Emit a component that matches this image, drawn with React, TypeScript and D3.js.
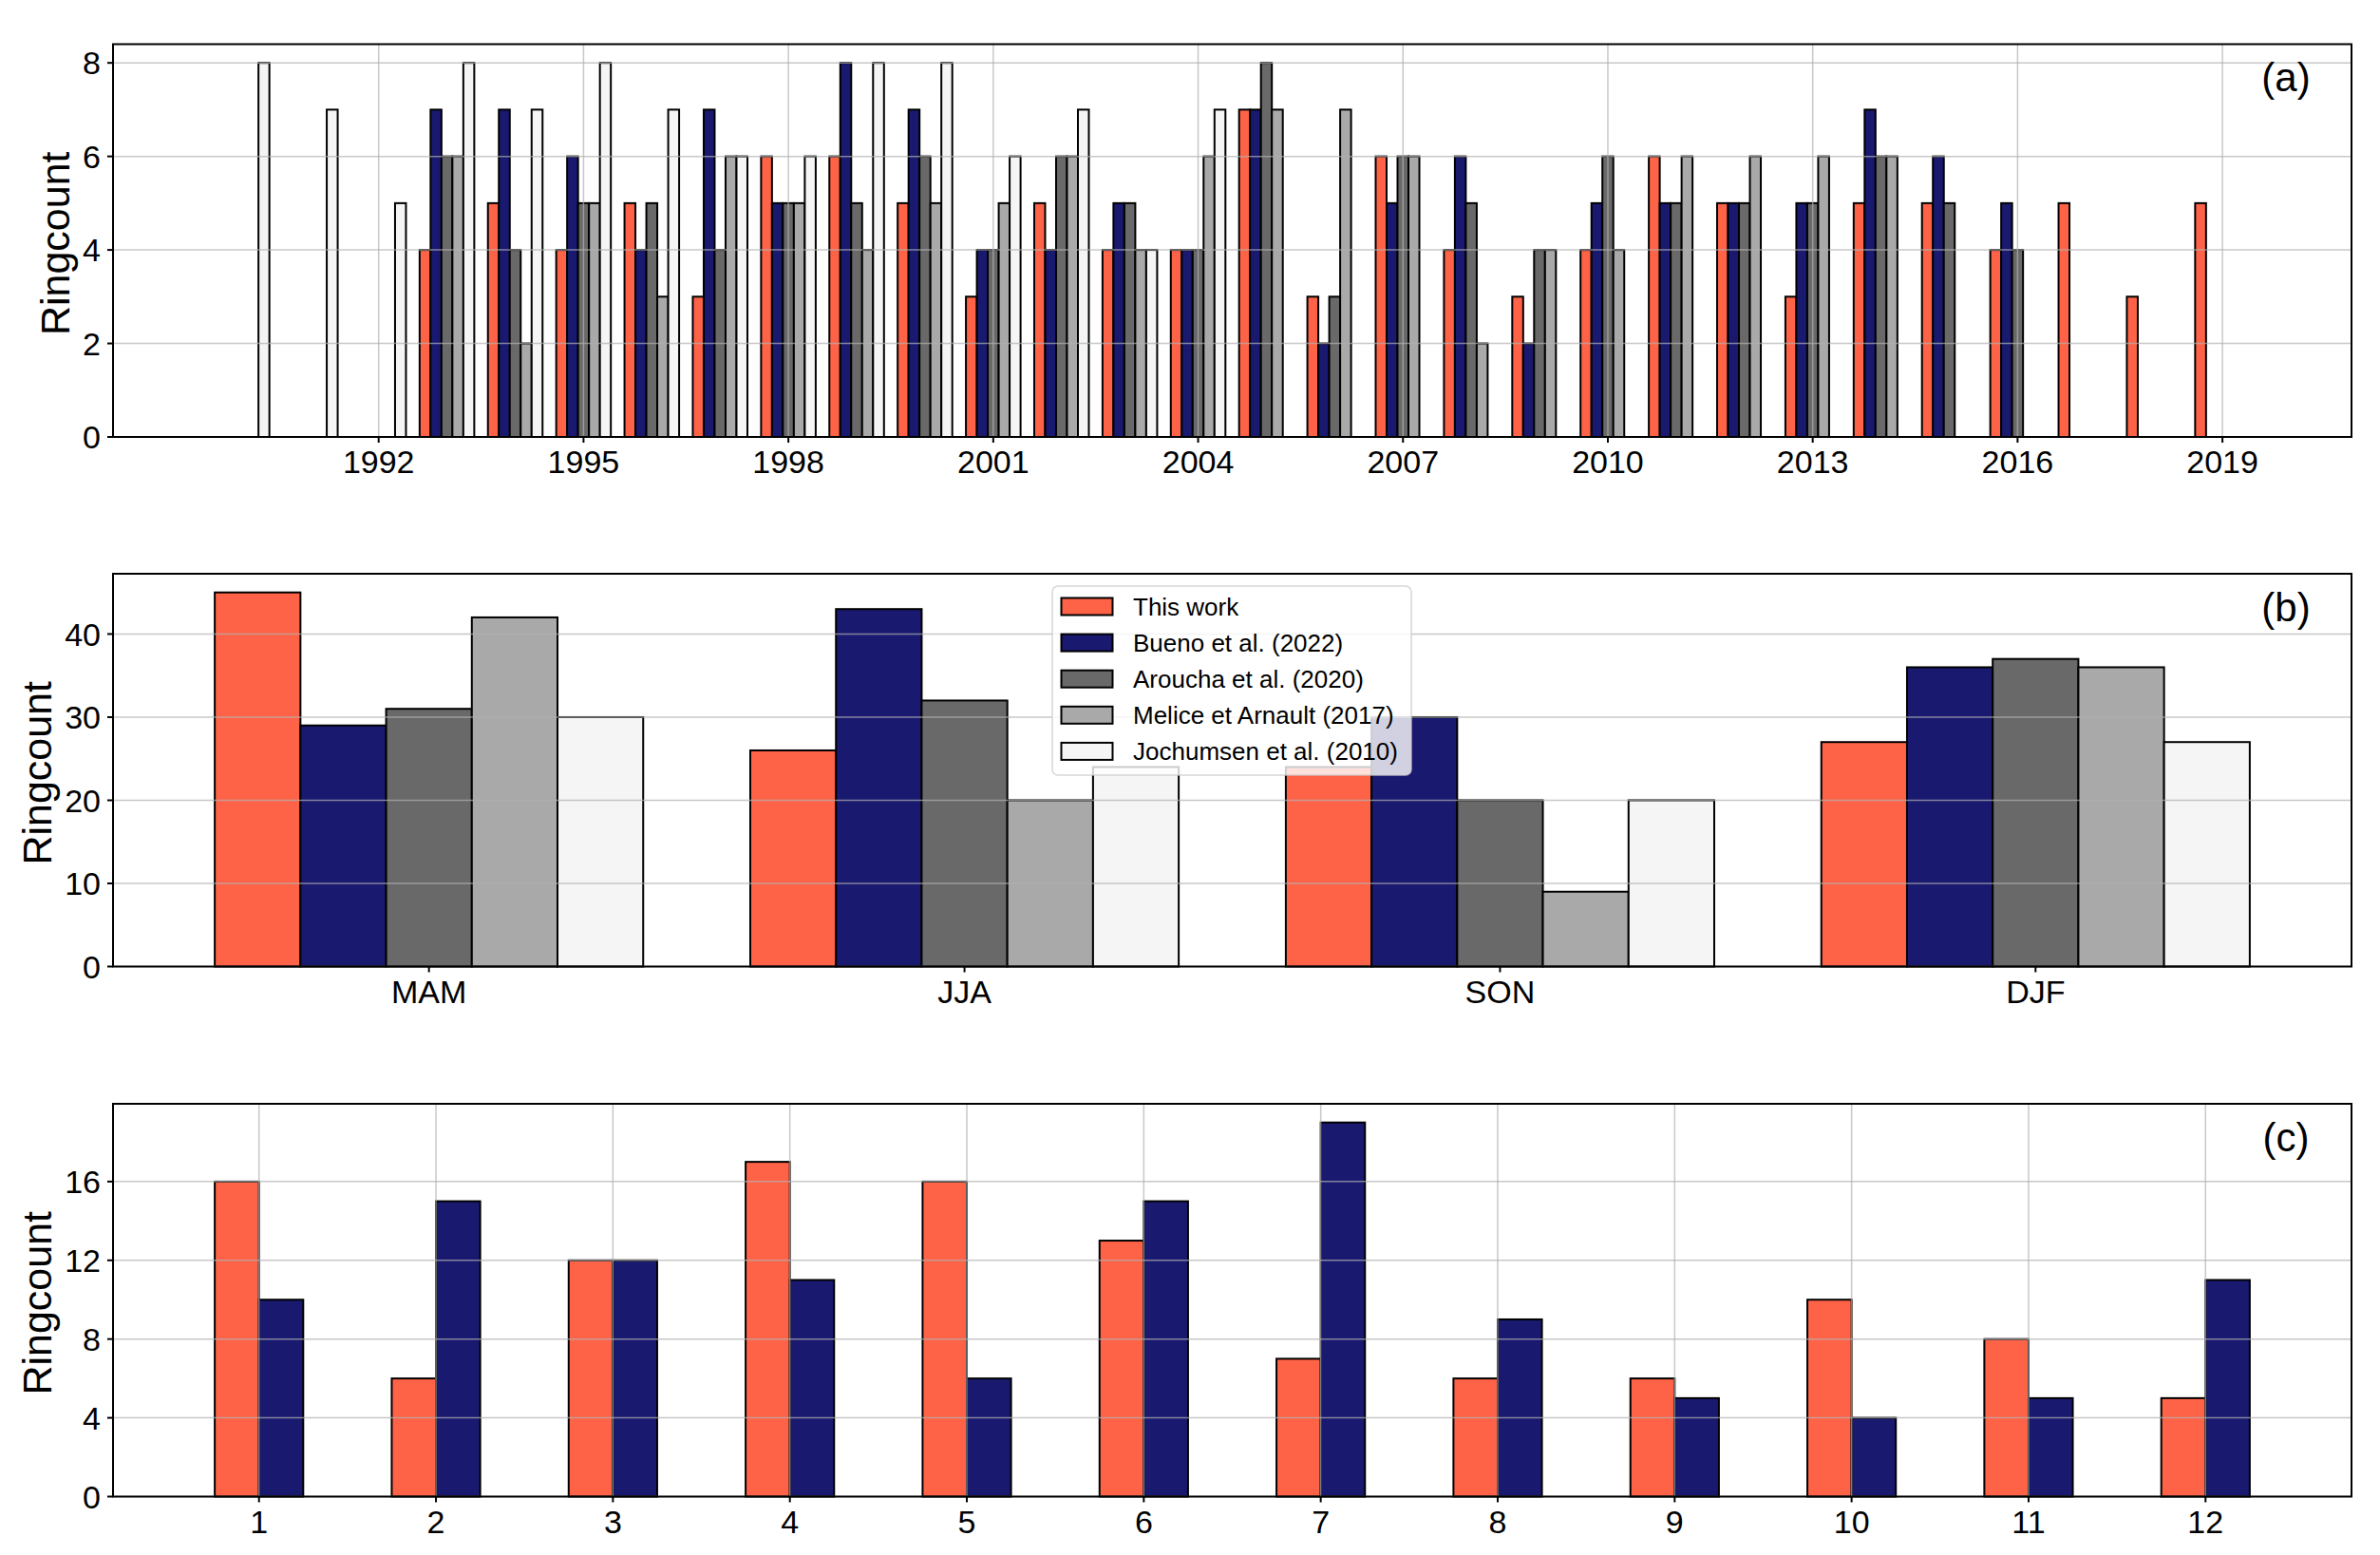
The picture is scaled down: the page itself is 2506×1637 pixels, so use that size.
import React from "react";
import * as d3 from "d3";

// ---------- DATA ----------
const years = [
  1990, 1991, 1992, 1993, 1994, 1995, 1996, 1997, 1998, 1999,
  2000, 2001, 2002, 2003, 2004, 2005, 2006, 2007, 2008, 2009,
  2010, 2011, 2012, 2013, 2014, 2015, 2016, 2017, 2018, 2019,
];
const thisWorkYearly = [null, null, null, 4, 5, 4, 5, 3, 6, 6, 5, 3, 5, 4, 4, 7, 3, 6, 4, 3, 4, 6, 5, 3, 5, 5, 4, 5, 3, 5];
const buenoYearly = [null, null, null, 7, 7, 6, 4, 7, 5, 8, 7, 4, 4, 5, 4, 7, 2, 5, 6, 2, 5, 5, 5, 5, 7, 6, 5, null, null, null];
const arouchaYearly = [null, null, null, 6, 4, 5, 5, 4, 5, 5, 6, 4, 6, 5, 4, 8, 3, 6, 5, 4, 6, 5, 5, 5, 6, 5, 4, null, null, null];
const meliceYearly = [null, null, null, 6, 2, 5, 3, 6, 5, 4, 5, 5, 6, 4, 6, 7, 7, 6, 2, 4, 4, 6, 6, 6, 6, null, null, null, null, null];
const jochumsenYearly = [8, 7, 5, 8, 7, 8, 7, 6, 6, 8, 8, 6, 7, 4, 7, null, null, null, null, null, null, null, null, null, null, null, null, null, null, null];
const yearTicks = [1992, 1995, 1998, 2001, 2004, 2007, 2010, 2013, 2016, 2019];
const yTicksA = [0, 2, 4, 6, 8];

const seasons = ["MAM", "JJA", "SON", "DJF"];
const thisWorkSeason = [45, 26, 24, 27];
const buenoSeason = [29, 43, 30, 36];
const arouchaSeason = [31, 32, 20, 37];
const meliceSeason = [42, 20, 9, 36];
const jochumsenSeason = [30, 24, 20, 27];
const yTicksB = [0, 10, 20, 30, 40];

const months = ["1", "2", "3", "4", "5", "6", "7", "8", "9", "10", "11", "12"];
const thisWorkMonthly = [16, 6, 12, 17, 16, 13, 7, 6, 6, 10, 8, 5];
const buenoMonthly = [10, 15, 12, 11, 6, 15, 19, 9, 5, 4, 5, 11];
const yTicksC = [0, 4, 8, 12, 16];

const seriesNames = [
  "This work",
  "Bueno et al. (2022)",
  "Aroucha et al. (2020)",
  "Melice et Arnault (2017)",
  "Jochumsen et al. (2010)",
];
const seriesColors = ["#FF6347", "#191970", "#696969", "#A9A9A9", "#F5F5F5"];

// ---------- LAYOUT ----------
const W = 2506;
const H = 1637;
const LEFT = 119;
const RIGHT = 2476;
const PANEL_H = 413.5;
const TOPS = [46.5, 604, 1162];
const FONT = "'Liberation Sans', Arial, Helvetica, sans-serif";
const TICK_FS = 34;
const LABEL_FS = 43;
const TAG_FS = 42;
const BAR_SW = 2;

type Bar = { x0: number; x1: number; v: number; color: string };

function Panel(props: {
  top: number;
  x: d3.ScaleLinear<number, number>;
  y: d3.ScaleLinear<number, number>;
  bars: Bar[];
  xTicks: { v: number; label: string }[];
  yTicks: number[];
  tag: string;
  ylabelX: number;
  xGrid: boolean;
  children?: React.ReactNode;
}) {
  const { top, x, y, bars, xTicks, yTicks, tag, ylabelX, xGrid } = props;
  const bottom = top + PANEL_H;
  return (
    <g>
      {bars.map((b, i) => (
        <rect
          key={i}
          x={x(b.x0)}
          y={y(b.v)}
          width={x(b.x1) - x(b.x0)}
          height={y(0) - y(b.v)}
          fill={b.color}
          stroke="#000"
          strokeWidth={BAR_SW}
        />
      ))}
      {/* grid */}
      <g stroke="#b0b0b0" strokeOpacity={0.7} strokeWidth={1.5}>
        {yTicks.map((t) => (
          <line key={"gy" + t} x1={LEFT} x2={RIGHT} y1={y(t)} y2={y(t)} />
        ))}
        {xGrid &&
          xTicks.map((t) => (
            <line key={"gx" + t.v} x1={x(t.v)} x2={x(t.v)} y1={top} y2={bottom} />
          ))}
      </g>
      {/* spines */}
      <rect x={LEFT} y={top} width={RIGHT - LEFT} height={PANEL_H} fill="none" stroke="#000" strokeWidth={2} />
      {/* ticks */}
      <g stroke="#000" strokeWidth={2}>
        {yTicks.map((t) => (
          <line key={"ty" + t} x1={LEFT - 6} x2={LEFT} y1={y(t)} y2={y(t)} />
        ))}
        {xTicks.map((t) => (
          <line key={"tx" + t.v} x1={x(t.v)} x2={x(t.v)} y1={bottom} y2={bottom + 6} />
        ))}
      </g>
      <g fontFamily={FONT} fontSize={TICK_FS} fill="#000">
        {yTicks.map((t) => (
          <text key={"ly" + t} x={LEFT - 13} y={y(t)} dy="0.36em" textAnchor="end">
            {t}
          </text>
        ))}
        {xTicks.map((t) => (
          <text key={"lx" + t.v} x={x(t.v)} y={bottom + 38} textAnchor="middle">
            {t.label}
          </text>
        ))}
      </g>
      <text
        transform={`translate(${ylabelX},${top + PANEL_H / 2 + 3}) rotate(-90)`}
        textAnchor="middle"
        fontFamily={FONT}
        fontSize={LABEL_FS}
      >
        Ringcount
      </text>
      <text x={2407} y={top + 49.5} textAnchor="middle" fontFamily={FONT} fontSize={TAG_FS}>
        {tag}
      </text>
      {props.children}
    </g>
  );
}

export default function App() {
  // Panel (a)
  const yearlySeries = [thisWorkYearly, buenoYearly, arouchaYearly, meliceYearly, jochumsenYearly];
  const wA = 0.16;
  const xA = d3.scaleLinear().domain([1988.11, 2020.89]).range([LEFT, RIGHT]);
  const yA = d3.scaleLinear().domain([0, 8.4]).range([TOPS[0] + PANEL_H, TOPS[0]]);
  const barsA: Bar[] = [];
  yearlySeries.forEach((s, si) => {
    s.forEach((v, i) => {
      if (v == null) return;
      const c = years[i] + (si - 2) * wA;
      barsA.push({ x0: c - wA / 2, x1: c + wA / 2, v, color: seriesColors[si] });
    });
  });

  // Panel (b)
  const seasonSeries = [thisWorkSeason, buenoSeason, arouchaSeason, meliceSeason, jochumsenSeason];
  const wB = 0.16;
  const xB = d3.scaleLinear().domain([-0.59, 3.59]).range([LEFT, RIGHT]);
  const yB = d3.scaleLinear().domain([0, 47.25]).range([TOPS[1] + PANEL_H, TOPS[1]]);
  const barsB: Bar[] = [];
  seasonSeries.forEach((s, si) => {
    s.forEach((v, i) => {
      const c = i + (si - 2) * wB;
      barsB.push({ x0: c - wB / 2, x1: c + wB / 2, v, color: seriesColors[si] });
    });
  });

  // Panel (c)
  const monthSeries = [thisWorkMonthly, buenoMonthly];
  const wC = 0.25;
  const xC = d3.scaleLinear().domain([0.175, 12.825]).range([LEFT, RIGHT]);
  const yC = d3.scaleLinear().domain([0, 19.95]).range([TOPS[2] + PANEL_H, TOPS[2]]);
  const barsC: Bar[] = [];
  monthSeries.forEach((s, si) => {
    s.forEach((v, i) => {
      const c = i + 1 + (si === 0 ? -0.5 : 0.5) * wC;
      barsC.push({ x0: c - wC / 2, x1: c + wC / 2, v, color: seriesColors[si] });
    });
  });

  // legend (upper center of panel b)
  const legX = 1108;
  const legY = 617;
  const legW = 378;
  const legH = 199;
  const rowY0 = 638.5;
  const rowStep = 38.1;

  return (
    <svg
      width={W}
      height={H}
      viewBox={`0 0 ${W} ${H}`}
      style={{ position: "absolute", left: 0, top: 0, display: "block", background: "#fff" }}
    >
      <rect x={0} y={0} width={W} height={H} fill="#fff" />
      <Panel
        top={TOPS[0]}
        x={xA}
        y={yA}
        bars={barsA}
        xTicks={yearTicks.map((t) => ({ v: t, label: String(t) }))}
        yTicks={yTicksA}
        tag="(a)"
        ylabelX={73}
        xGrid={true}
      />
      <Panel
        top={TOPS[1]}
        x={xB}
        y={yB}
        bars={barsB}
        xTicks={seasons.map((s, i) => ({ v: i, label: s }))}
        yTicks={yTicksB}
        tag="(b)"
        ylabelX={53.5}
        xGrid={false}
      >
        <g>
          <rect
            x={legX}
            y={legY}
            width={legW}
            height={legH}
            rx={6}
            ry={6}
            fill="#fff"
            fillOpacity={0.8}
            stroke="#cccccc"
            strokeOpacity={0.8}
            strokeWidth={1.5}
          />
          {seriesNames.map((n, i) => (
            <g key={n}>
              <rect
                x={1117.5}
                y={rowY0 + i * rowStep - 9}
                width={54}
                height={18}
                fill={seriesColors[i]}
                stroke="#000"
                strokeWidth={BAR_SW}
              />
              <text
                x={1193}
                y={rowY0 + i * rowStep}
                dy="0.36em"
                fontFamily={FONT}
                fontSize={26}
              >
                {n}
              </text>
            </g>
          ))}
        </g>
      </Panel>
      <Panel
        top={TOPS[2]}
        x={xC}
        y={yC}
        bars={barsC}
        xTicks={months.map((m, i) => ({ v: i + 1, label: m }))}
        yTicks={yTicksC}
        tag="(c)"
        ylabelX={53.5}
        xGrid={true}
      />
    </svg>
  );
}
